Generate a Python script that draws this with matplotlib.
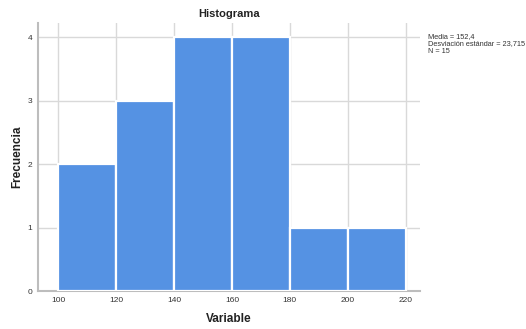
import matplotlib.pyplot as plt

plt.rcParams['font.family'] = ['Liberation Sans', 'DejaVu Sans']

bin_edges = [100, 120, 140, 160, 180, 200, 220]
counts = [2, 3, 4, 4, 1, 1]
stats_text = "Media = 152,4\nDesviación estándar = 23,715\nN = 15"

fig = plt.figure(figsize=(5.26, 3.29), dpi=100)
ax = fig.add_axes([0.0722, 0.1155, 0.7258, 0.8145])

lefts = bin_edges[:-1]
widths = [b - a for a, b in zip(bin_edges[:-1], bin_edges[1:])]
ax.bar(lefts, counts, width=widths, align='edge', color='#5592e3',
       edgecolor='white', linewidth=1.6, zorder=3)

ax.set_xlim(93.1, 224.8)
ax.set_ylim(0, 4.22)
ax.set_xticks(bin_edges)
ax.set_yticks([0, 1, 2, 3, 4])
ax.grid(True, color='#d9d9d9', linewidth=1, zorder=0)
ax.tick_params(labelsize=6, length=0, pad=4, colors='#333333')

for s in ['top', 'right']:
    ax.spines[s].set_visible(False)
for s in ['left', 'bottom']:
    ax.spines[s].set_color('#bdbdbd')
    ax.spines[s].set_linewidth(1.5)

ax.set_title('Histograma', fontsize=8, fontweight='bold', pad=4, color='#222222')
ax.set_xlabel('Variable', fontsize=8.5, fontweight='bold', labelpad=7, color='#222222')
ax.set_ylabel('Frecuencia', fontsize=8.5, fontweight='bold', labelpad=3, color='#222222')

fig.text(428 / 526, 1 - 33 / 329, stats_text, fontsize=5.3, va='top', ha='left',
         color='#333333', linespacing=1.1)

fig.savefig('out.png', dpi=100)
